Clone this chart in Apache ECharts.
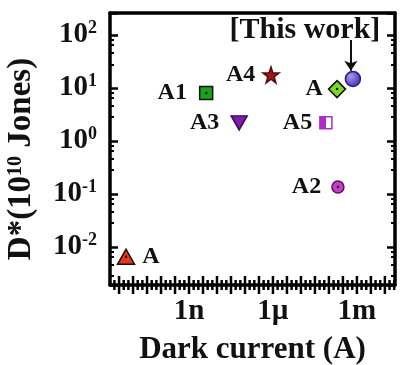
<!DOCTYPE html>
<html>
<head>
<meta charset="utf-8">
<script src="https://cdn.jsdelivr.net/npm/echarts@6/dist/echarts.min.js"></script>
<style>html,body{margin:0;padding:0;background:#fff}#c{width:402px;height:365px}</style>
</head>
<body>
<div id="c"></div>
<script>
// ---- data ----
const pointLabels = ['A', 'A1', 'A4', 'A3', 'A', '', 'A5', 'A2'];
const darkCurrent = [5.6e-12, 4.1e-9, 8.5e-7, 6.2e-8, 1.95e-4, 7.2e-4, 7.8e-5, 2.1e-4];
const detectivity = [0.0065, 8.05, 17.6, 2.19, 9.5, 14.8, 2.19, 0.135];
const xTickLabels = {'-9': '1n', '-6': '1µ', '-3': '1m'};
const yTickExponents = [-2, -1, 0, 1, 2];
const xRange = [1.5e-12, 0.023];
const yRange = [0.0019, 260];
const annotationText = '[This work]';
const annotationPos = [1.39e-5, 124];
const arrowX = 6.1e-4;
const arrowY = [80, 21];

// ---- styles ----
const SERIF = '"Liberation Serif", "Times New Roman", serif';
const styles = [
  {symbol: 'triangle', size: [17, 15], color: '#e8361c', border: '#111', pos: 'right', dist: 7, dot: true},
  {symbol: 'rect', size: 13, color: '#18a418', border: '#111', pos: 'left', dist: 12, dot: true},
  {symbol: 'path://M50,0 L61.8,35.3 L99,35.3 L69,57.3 L80.3,92.7 L50,71 L19.7,92.7 L31,57.3 L1,35.3 L38.2,35.3 Z', size: 16, color: '#9b1a1a', border: '#5a0a0a', pos: 'left', dist: 7},
  {symbol: 'triangle', rotate: 180, size: [16, 14], color: '#7a1ea6', border: '#3a0a55', pos: 'left', dist: 11},
  {symbol: 'diamond', size: 17, color: '#7fd62a', border: '#111', pos: 'left', dist: 5, dot: true},
  {symbol: 'circle', size: 15, color: {type: 'radial', x: 0.35, y: 0.35, r: 0.75, colorStops: [{offset: 0, color: '#a39cf0'}, {offset: 1, color: '#3524a6'}]}, border: '#2a1c8a', pos: 'left', dist: 5},
  {symbol: 'rect', size: 12, color: {type: 'linear', x: 0, y: 0, x2: 1, y2: 0, colorStops: [{offset: 0, color: '#b02cc6'}, {offset: 0.5, color: '#b02cc6'}, {offset: 0.5, color: '#ffffff'}, {offset: 1, color: '#ffffff'}]}, border: '#b02cc6', pos: 'left', dist: 7},
  {symbol: 'circle', size: 12, color: '#c63fc9', border: '#5a1060', pos: 'left', dist: 10, dot: true}
];

const lg = Math.log10;
const labelStyle = {fontFamily: SERIF, fontWeight: 'bold', fontSize: 24, color: '#111'};

const series = darkCurrent.map((x, i) => {
  const s = styles[i];
  return {
    type: 'scatter', z: 3,
    symbol: s.symbol, symbolSize: s.size, symbolRotate: s.rotate || 0,
    itemStyle: {color: s.color, borderColor: s.border, borderWidth: 1.5, opacity: 1},
    label: Object.assign({show: !!pointLabels[i], position: s.pos, distance: s.dist, formatter: pointLabels[i]}, labelStyle),
    data: [[lg(x), detectivity[i]]]
  };
});

// arrow to "this work"
series.push({
  type: 'line', z: 6, silent: true, symbol: 'none', data: [],
  markLine: {
    silent: true, symbol: ['none', 'arrow'], symbolSize: 10,
    lineStyle: {color: '#111', width: 2, type: 'solid'}, itemStyle: {color: '#111'}, label: {show: false},
    data: [[{coord: [lg(arrowX), arrowY[0]]}, {coord: [lg(arrowX), arrowY[1]]}]]
  }
});

// centre dots
series.push({
  type: 'scatter', z: 4, symbol: 'circle', symbolSize: 2.5,
  itemStyle: {color: '#111', opacity: 1},
  data: darkCurrent.map((x, i) => styles[i].dot ? [lg(x), detectivity[i]] : null).filter(Boolean)
});

// annotation text
series.push({
  type: 'scatter', z: 5, symbolSize: 0,
  itemStyle: {opacity: 1, color: 'rgba(0,0,0,0)'},
  label: Object.assign({show: true, position: 'inside', formatter: annotationText}, labelStyle, {fontSize: 30, opacity: 1}),
  data: [[lg(annotationPos[0]), annotationPos[1]]]
});

// bottom-axis tick marks (every 1/6 decade, taller every half decade), placed through the axes
const xTickData = [];
const kMin = Math.ceil(lg(xRange[0]) * 6), kMax = Math.floor(lg(xRange[1]) * 6);
for (let k = kMin; k <= kMax; k++) {
  const len = (k % 3 === 0) ? 9 : 5;
  xTickData.push({value: [k / 6, yRange[0]], symbolSize: [2.5, len * 2]});
}
series.push({
  type: 'scatter', z: 7, silent: true, clip: false,
  symbol: 'rect',
  itemStyle: {color: '#000', opacity: 1},
  data: xTickData
});

function isPow(v) { const e = Math.log10(v); return Math.abs(e - Math.round(e)) < 1e-6; }

const axisLine = {show: true, onZero: false, lineStyle: {color: '#000', width: 3.5}};
const yAxisCommon = {
  type: 'log', logBase: 10, min: yRange[0], max: yRange[1],
  axisLine: axisLine, splitLine: {show: false},
  axisTick: {show: true, inside: true, length: 8, lineStyle: {color: '#000', width: 2.5}},
  minorTick: {show: true, splitNumber: 5, length: 4, lineStyle: {color: '#000', width: 2}}
};

const option = {
  animation: false,
  backgroundColor: '#fff',
  grid: {left: 110, right: 7, top: 13, bottom: 80, containLabel: false, outerBoundsMode: 'none'},
  xAxis: [{
    type: 'value', min: lg(xRange[0]), max: lg(xRange[1]), splitNumber: 10,
    name: 'Dark current (A)', nameLocation: 'middle', nameGap: 49,
    nameTextStyle: {fontFamily: SERIF, fontWeight: 'bold', fontSize: 31, color: '#111'},
    axisLine: axisLine, splitLine: {show: false},
    axisTick: {show: false},
    minorTick: {show: false},
    axisLabel: {
      margin: 12, fontFamily: SERIF, fontWeight: 'bold', fontSize: 29, color: '#111',
      formatter: v => Math.abs(v - Math.round(v)) < 1e-6 ? (xTickLabels[String(Math.round(v))] || '') : ''
    }
  }, {
    type: 'value', position: 'top', min: lg(xRange[0]), max: lg(xRange[1]),
    axisLine: axisLine, axisTick: {show: false}, axisLabel: {show: false}, splitLine: {show: false}
  }],
  yAxis: [Object.assign({}, yAxisCommon, {
    name: 'D*(10{s|10} Jones)', nameLocation: 'middle', nameGap: 72,
    nameTextStyle: {fontFamily: SERIF, fontWeight: 'bold', fontSize: 33, color: '#111', padding: [0, 20, 0, 0],
      rich: {s: {fontFamily: SERIF, fontWeight: 'bold', fontSize: 20, color: '#111', padding: [0, 0, 12, 0]}}},
    axisLabel: {
      margin: 13, fontFamily: SERIF, fontWeight: 'bold', color: '#111',
      formatter: v => {
        if (!isPow(v)) return '';
        const e = Math.round(Math.log10(v));
        if (yTickExponents.indexOf(e) < 0) return '';
        return '{b|10}{s|' + e + '}';
      },
      rich: {
        b: {fontFamily: SERIF, fontWeight: 'bold', fontSize: 29, color: '#111'},
        s: {fontFamily: SERIF, fontWeight: 'bold', fontSize: 18, color: '#111', padding: [0, 0, 13, 0]}
      }
    }
  }), Object.assign({}, yAxisCommon, {position: 'right', axisLabel: {show: false}})],
  series: series
};

const chart = echarts.init(document.getElementById('c'), null, {renderer: 'canvas'});
chart.setOption(option);
</script>
</body>
</html>
